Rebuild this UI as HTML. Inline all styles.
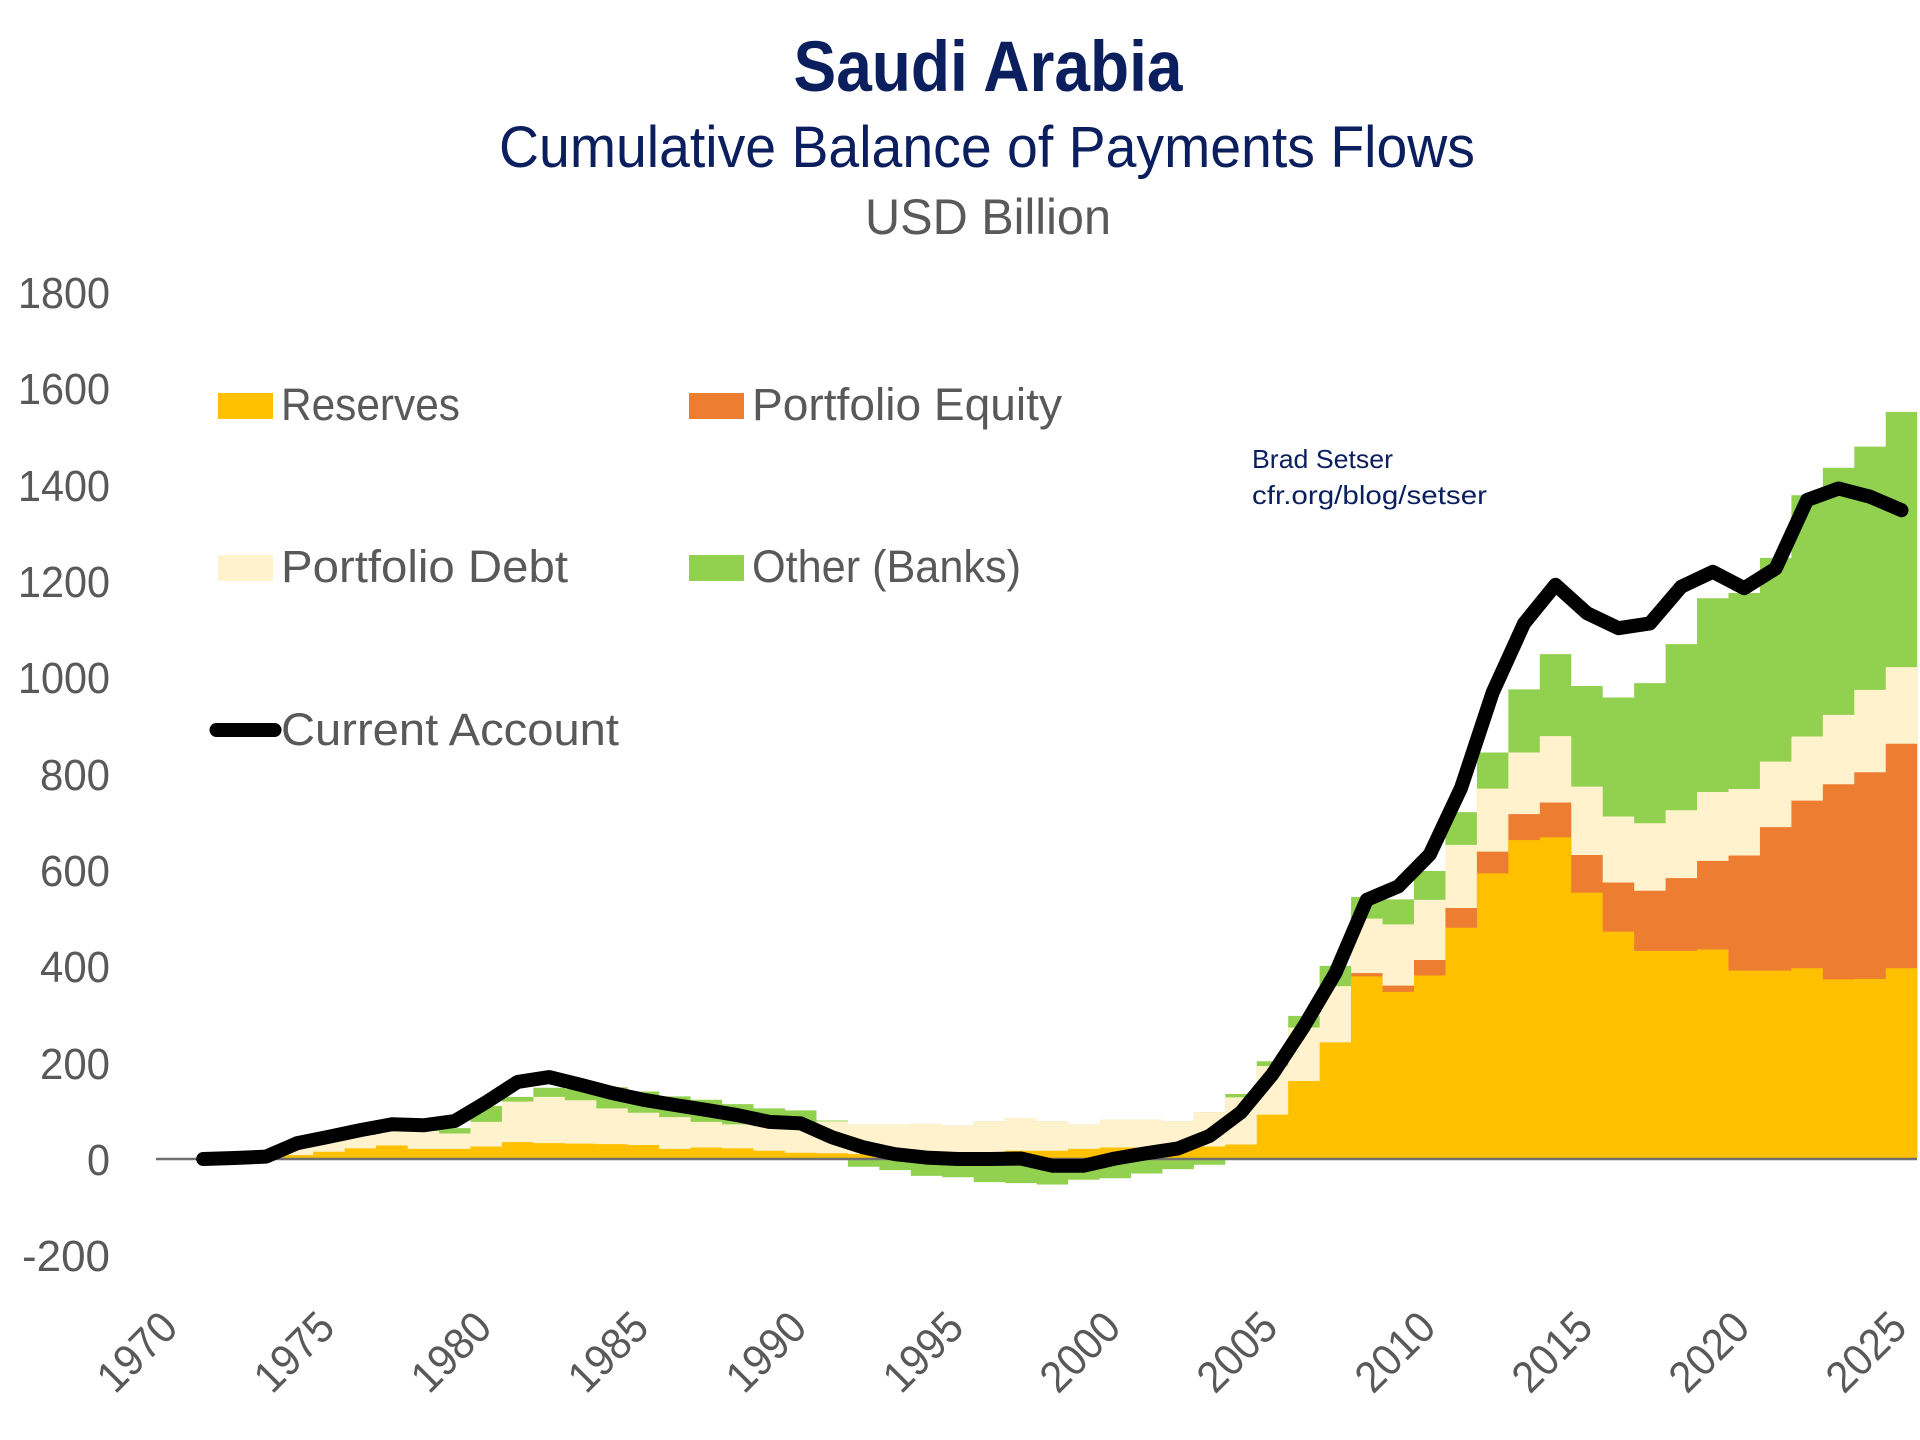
<!DOCTYPE html>
<html>
<head>
<meta charset="utf-8">
<style>
  html, body { margin: 0; padding: 0; background: #ffffff; }
  svg { display: block; }
  text { font-family: "Liberation Sans", "DejaVu Sans", sans-serif; }
</style>
</head>
<body>
<svg width="1920" height="1440" viewBox="0 0 1920 1440" xmlns="http://www.w3.org/2000/svg">
  <rect x="0" y="0" width="1920" height="1440" fill="#ffffff"/>

  <!-- Titles -->
  <text x="988" y="91" font-size="71" font-weight="bold" fill="#0b1f5e" text-anchor="middle" textLength="389" lengthAdjust="spacingAndGlyphs">Saudi Arabia</text>
  <text x="987" y="167" font-size="58" fill="#0b1f5e" text-anchor="middle" textLength="976" lengthAdjust="spacingAndGlyphs">Cumulative Balance of Payments Flows</text>
  <text x="988" y="234" font-size="50" fill="#595959" text-anchor="middle" textLength="246" lengthAdjust="spacingAndGlyphs">USD Billion</text>

  <!-- Y axis labels -->
  <g font-size="44" fill="#595959" text-anchor="end">
    <text x="110" y="308" textLength="92" lengthAdjust="spacingAndGlyphs">1800</text>
    <text x="110" y="404" textLength="92" lengthAdjust="spacingAndGlyphs">1600</text>
    <text x="110" y="501" textLength="92" lengthAdjust="spacingAndGlyphs">1400</text>
    <text x="110" y="597" textLength="92" lengthAdjust="spacingAndGlyphs">1200</text>
    <text x="110" y="693" textLength="92" lengthAdjust="spacingAndGlyphs">1000</text>
    <text x="110" y="790" textLength="70" lengthAdjust="spacingAndGlyphs">800</text>
    <text x="110" y="886" textLength="70" lengthAdjust="spacingAndGlyphs">600</text>
    <text x="110" y="982" textLength="70" lengthAdjust="spacingAndGlyphs">400</text>
    <text x="110" y="1079" textLength="70" lengthAdjust="spacingAndGlyphs">200</text>
    <text x="110" y="1175" textLength="23" lengthAdjust="spacingAndGlyphs">0</text>
    <text x="110" y="1271" textLength="88" lengthAdjust="spacingAndGlyphs">-200</text>
  </g>

  <!-- X axis labels (rotated) -->
  <g font-size="44" fill="#595959" text-anchor="end">
    <text transform="translate(180,1330) rotate(-45)" textLength="92" lengthAdjust="spacingAndGlyphs">1970</text>
    <text transform="translate(337,1330) rotate(-45)" textLength="92" lengthAdjust="spacingAndGlyphs">1975</text>
    <text transform="translate(494,1330) rotate(-45)" textLength="92" lengthAdjust="spacingAndGlyphs">1980</text>
    <text transform="translate(651,1330) rotate(-45)" textLength="92" lengthAdjust="spacingAndGlyphs">1985</text>
    <text transform="translate(809,1330) rotate(-45)" textLength="92" lengthAdjust="spacingAndGlyphs">1990</text>
    <text transform="translate(966,1330) rotate(-45)" textLength="92" lengthAdjust="spacingAndGlyphs">1995</text>
    <text transform="translate(1123,1330) rotate(-45)" textLength="92" lengthAdjust="spacingAndGlyphs">2000</text>
    <text transform="translate(1280,1330) rotate(-45)" textLength="92" lengthAdjust="spacingAndGlyphs">2005</text>
    <text transform="translate(1438,1330) rotate(-45)" textLength="92" lengthAdjust="spacingAndGlyphs">2010</text>
    <text transform="translate(1595,1330) rotate(-45)" textLength="92" lengthAdjust="spacingAndGlyphs">2015</text>
    <text transform="translate(1752,1330) rotate(-45)" textLength="92" lengthAdjust="spacingAndGlyphs">2020</text>
    <text transform="translate(1909,1330) rotate(-45)" textLength="92" lengthAdjust="spacingAndGlyphs">2025</text>
  </g>

  <!-- Stacked columns (data units: x = years since 1970, y = USD bn) -->
  <g transform="translate(156,1159) scale(31.45,-0.4817)">
    <!-- Other (Banks) -->
    <path fill="#92d050" d="M1 0 V0 H2 V2 H3 V5 H4 V25 H5 V40 H6 V52 H7 V62 H8 V62 H9 V64 H10 V110 H11 V129 H12 V148 H13 V145 H14 V149 H15 V140 H16 V130 H17 V123 H18 V114 H19 V105 H20 V101 H21 V80 H22 V71 H23 V71 H24 V73 H25 V69 H26 V78 H27 V85 H28 V78 H29 V71 H30 V82 H31 V82 H32 V78 H33 V97 H34 V135 H35 V203 H36 V297 H37 V401 H38 V544 H39 V539 H40 V598 H41 V720 H42 V844 H43 V975 H44 V1048 H45 V982 H46 V958 H47 V988 H48 V1069 H49 V1164 H50 V1175 H51 V1248 H52 V1378 H53 V1435 H54 V1479 H55 V1551 H56 V0 Z"/>
    <path fill="#92d050" d="M22 0 V-16 H23 V-23 H24 V-35 H25 V-38 H26 V-48 H27 V-50 H28 V-53 H29 V-43 H30 V-40 H31 V-30 H32 V-21 H33 V-12 H34 V0 Z"/>
    <!-- Portfolio Debt -->
    <path fill="#fff2cc" d="M1 0 V0 H2 V2 H3 V5 H4 V25 H5 V38 H6 V50 H7 V60 H8 V58 H9 V53 H10 V77 H11 V119 H12 V129 H13 V122 H14 V105 H15 V96 H16 V87 H17 V77 H18 V72 H19 V68 H20 V66 H21 V78 H22 V71 H23 V71 H24 V73 H25 V69 H26 V78 H27 V85 H28 V78 H29 V71 H30 V82 H31 V82 H32 V78 H33 V97 H34 V128 H35 V193 H36 V273 H37 V359 H38 V499 H39 V487 H40 V538 H41 V652 H42 V769 H43 V844 H44 V878 H45 V773 H46 V711 H47 V697 H48 V724 H49 V762 H50 V768 H51 V825 H52 V877 H53 V922 H54 V974 H55 V1021 H56 V0 Z"/>
    <!-- Portfolio Equity -->
    <path fill="#ed7d31" d="M38 0 V386 H39 V360 H40 V413 H41 V521 H42 V638 H43 V716 H44 V740 H45 V631 H46 V574 H47 V557 H48 V583 H49 V619 H50 V630 H51 V689 H52 V744 H53 V778 H54 V803 H55 V862 H56 V0 Z"/>
    <!-- Reserves -->
    <path fill="#ffc000" d="M1 0 V0 H2 V0 H3 V1 H4 V8 H5 V15 H6 V22 H7 V28 H8 V21 H9 V21 H10 V26 H11 V35 H12 V33 H13 V32 H14 V31 H15 V29 H16 V21 H17 V24 H18 V22 H19 V17 H20 V13 H21 V12 H22 V10 H23 V7 H24 V5 H25 V5 H26 V8 H27 V17 H28 V17 H29 V21 H30 V24 H31 V24 H32 V22 H33 V26 H34 V30 H35 V92 H36 V162 H37 V242 H38 V379 H39 V347 H40 V381 H41 V480 H42 V593 H43 V662 H44 V668 H45 V553 H46 V472 H47 V432 H48 V432 H49 V435 H50 V391 H51 V391 H52 V396 H53 V373 H54 V374 H55 V396 H56 V0 Z"/>
  </g>

  <!-- Zero axis line -->
  <line x1="156" y1="1159" x2="1917" y2="1159" stroke="#6f6f6f" stroke-width="2.5"/>

  <!-- Current Account line -->
  <polyline fill="none" stroke="#000000" stroke-width="14" stroke-linejoin="round" stroke-linecap="round"
    points="203.2,1159 234.6,1158 266.1,1156.6 297.5,1143.1 329,1136.8 360.4,1130.1 391.9,1124.3 423.3,1125.3 454.8,1121 486.2,1102.2 517.7,1081.9 549.1,1077.1 580.6,1084.8 612,1093 643.5,1099.8 674.9,1105 706.4,1109.9 737.8,1115.2 769.3,1121.9 800.7,1123.4 832.2,1137.3 863.6,1147.4 895.1,1154.2 926.5,1157.6 958,1159 989.4,1159 1020.9,1158.5 1052.3,1165.7 1083.8,1165.7 1115.2,1158.5 1146.7,1153.2 1178.1,1148.4 1209.6,1135.9 1241,1112.3 1272.5,1074.2 1303.9,1026.5 1335.4,973.1 1366.8,899.8 1398.3,886.4 1429.7,854.6 1461.2,787.6 1492.6,692.7 1524.1,623.4 1555.5,584.8 1587,613.2 1618.4,628.2 1649.9,623.4 1681.3,586.7 1712.8,571.8 1744.2,588.2 1775.7,568.4 1807.1,500 1838.6,488.5 1870,496.7 1901.5,510.2"/>

  <!-- Legend -->
  <rect x="218" y="393" width="55" height="26" fill="#ffc000"/>
  <text x="281" y="420" font-size="45" fill="#595959" textLength="179" lengthAdjust="spacingAndGlyphs">Reserves</text>

  <rect x="689" y="393" width="55" height="26" fill="#ed7d31"/>
  <text x="752" y="420" font-size="45" fill="#595959" textLength="310" lengthAdjust="spacingAndGlyphs">Portfolio Equity</text>

  <rect x="218" y="555" width="55" height="26" fill="#fff2cc"/>
  <text x="281" y="582" font-size="45" fill="#595959" textLength="287" lengthAdjust="spacingAndGlyphs">Portfolio Debt</text>

  <rect x="689" y="555" width="55" height="26" fill="#92d050"/>
  <text x="752" y="582" font-size="45" fill="#595959" textLength="269" lengthAdjust="spacingAndGlyphs">Other (Banks)</text>

  <line x1="216.5" y1="730" x2="274.5" y2="730" stroke="#000000" stroke-width="14" stroke-linecap="round"/>
  <text x="281" y="745" font-size="45" fill="#595959" textLength="338" lengthAdjust="spacingAndGlyphs">Current Account</text>

  <!-- Annotation -->
  <text x="1252" y="468" font-size="26" fill="#0b1f5e" textLength="141" lengthAdjust="spacingAndGlyphs">Brad Setser</text>
  <text x="1252" y="504" font-size="26" fill="#0b1f5e" textLength="235" lengthAdjust="spacingAndGlyphs">cfr.org/blog/setser</text>
</svg>
</body>
</html>
